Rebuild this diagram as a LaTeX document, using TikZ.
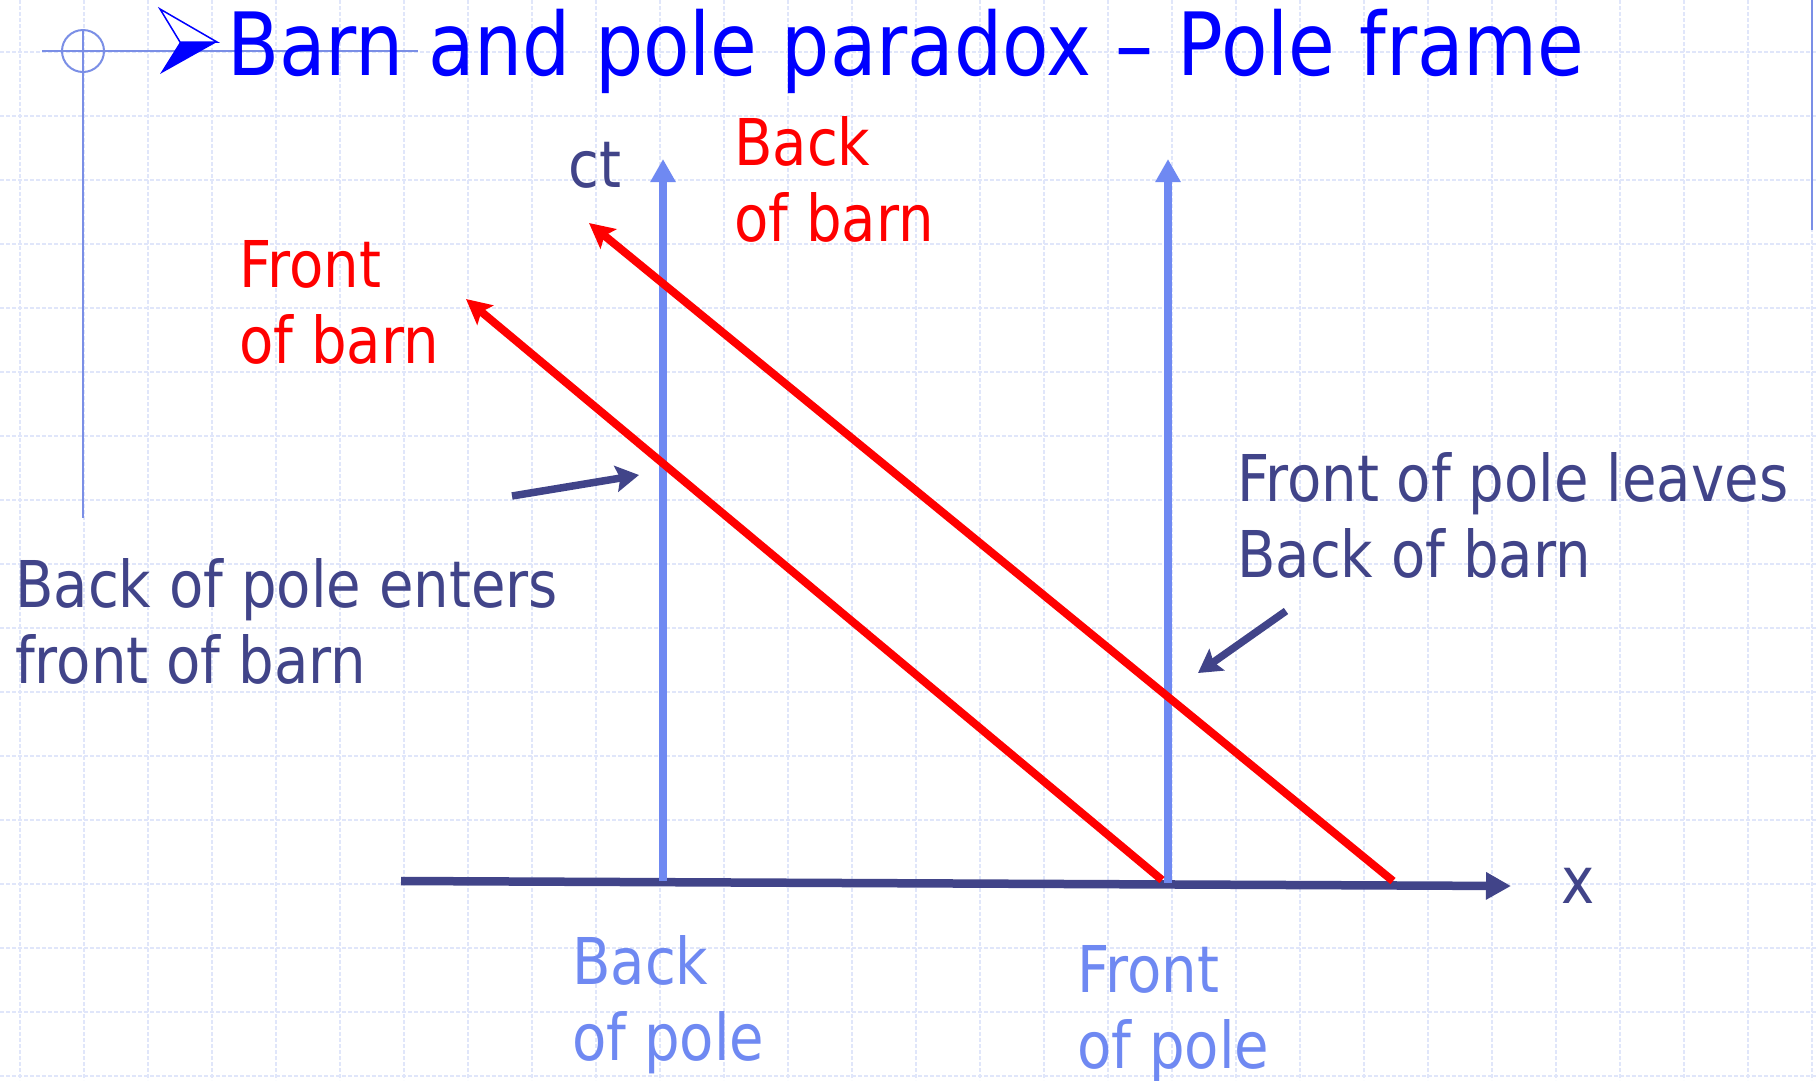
\documentclass[tikz,border=0pt]{standalone}
\usepackage{fontspec}
\setmainfont[FakeStretch=0.87]{DejaVu Sans}
\usepackage{xcolor}
\usepackage{tikz}
\usetikzlibrary{arrows.meta,positioning}
\definecolor{titleblue}{HTML}{0000FF}
\definecolor{navy}{HTML}{414489}
\definecolor{poleblue}{HTML}{6F89F2}
\definecolor{decoblue}{HTML}{7B8FE6}
\definecolor{gridblue}{HTML}{E0E6FA}
\definecolor{barnred}{HTML}{FF0000}

\begin{document}
\begin{tikzpicture}[
  x=1pt, y=-1pt,
  gridline/.style={gridblue, line width=1.1pt, dash pattern=on 4pt off 2pt},
  deco/.style={decoblue, line width=2pt},
  axis/.style={navy, line width=8.5pt, -{Triangle[length=25pt,width=26pt]}},
  pole/.style={poleblue, line width=8pt, -{Triangle[length=23pt,width=24pt]}},
  barn/.style={barnred, line width=8pt, -{Stealth[length=25pt,width=25pt,inset=5pt]}},
  pointer/.style={navy, line width=7.5pt, -{Stealth[length=23pt,width=26pt,inset=4pt]}},
  lbl/.style={anchor=base west, inner sep=0pt, align=left,
    font={\fontsize{64.5}{76}\selectfont}, text=navy},
  redlbl/.style={lbl, text=barnred},
  polelbl/.style={lbl, text=poleblue}
]
  % page and grid
  \fill[white] (0,0) rectangle (1816,1080);
  \useasboundingbox (0,0) rectangle (1816,1080);
  \foreach \gx in {0,...,28}
    \draw[gridline] ({20+64*\gx},0) -- ({20+64*\gx},1080);
  \foreach \gy in {0,...,16}
    \draw[gridline] (0,{52+64*\gy}) -- (1816,{52+64*\gy});

  % slide decoration
  \draw[deco] (42,51) -- (418,51);
  \draw[deco] (83,30) -- (83,518);
  \draw[deco] (83,51) circle (21pt);
  \draw[deco] (1812,0) -- (1812,230);
  \draw[titleblue, line width=1.5pt, fill=white] (160,9) -- (217,42) -- (180,42) -- cycle;
  \fill[titleblue] (180,42) -- (217,42) -- (160,74) -- cycle;
  \node[anchor=base west, inner sep=0pt, text=titleblue,
    font={\fontsize{87.3}{100}\selectfont}] (title) at (227,75)
    {Barn and pole paradox – Pole frame};

  % axes and world lines
  \coordinate (xstart) at (401,881);
  \coordinate (xend)   at (1511,886);
  \coordinate (bpole0) at (663,881);
  \coordinate (bpole1) at (663,159);
  \coordinate (fpole0) at (1168,883);
  \coordinate (fpole1) at (1168,159);
  \coordinate (fbarn0) at (1162,880);
  \coordinate (fbarn1) at (466,299);
  \coordinate (bbarn0) at (1393,881);
  \coordinate (bbarn1) at (589,223);

  \draw[axis] (xstart) -- (xend);
  \draw[pole] (bpole0) -- (bpole1);
  \draw[pole] (fpole0) -- (fpole1);
  \draw[barn] (fbarn0) -- (fbarn1);
  \draw[barn] (bbarn0) -- (bbarn1);

  % labels (base = last line)
  \node[lbl] (ctlbl) at (568,187) {ct};
  \node[lbl, right=50pt of xend] (xlbl) {x};
  \node[redlbl] (fbarnlbl) at (239,363) {Front\\of barn};
  \node[redlbl] (bbarnlbl) at (734,241) {Back\\of barn};
  \node[polelbl] (bpolelbl) at (572,1060) {Back\\of pole};
  \node[polelbl] (fpolelbl) at (1077,1068) {Front\\of pole};
  \node[lbl] (enters) at (15,683) {Back of pole enters\\front of barn};
  \node[lbl] (leaves) at (1237,577) {Front of pole leaves\\Back of barn};

  % pointers
  \coordinate (enter0) at (512,496);
  \coordinate (enter1) at (639,475);
  \coordinate (leave0) at (1286,611);
  \coordinate (leave1) at (1198,673);
  \draw[pointer] (enter0) -- (enter1);
  \draw[pointer] (leave0) -- (leave1);
\end{tikzpicture}
\end{document}
